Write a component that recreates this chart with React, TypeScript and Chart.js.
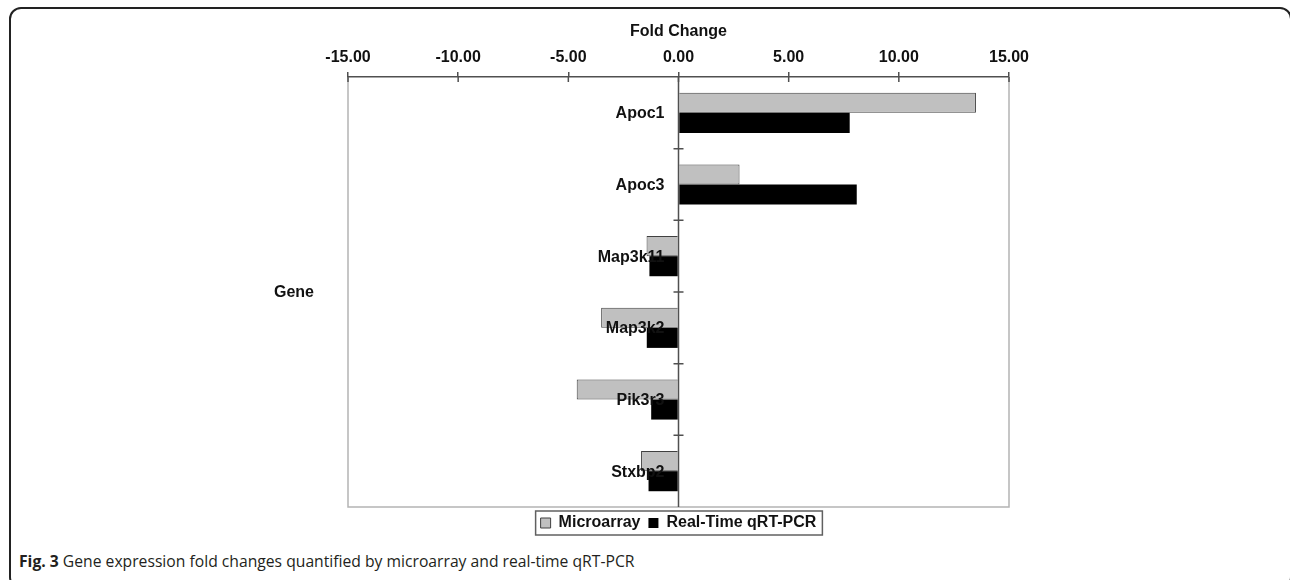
import React, { useEffect, useRef } from "react";
import { Chart, registerables } from "chart.js";

Chart.register(...registerables);

const genes = ["Apoc1", "Apoc3", "Map3k11", "Map3k2", "Pik3r3", "Stxbp2"];
const microarray = [13.5, 2.77, -1.45, -3.51, -4.62, -1.7];
const qrtPcr = [7.77, 8.09, -1.32, -1.44, -1.24, -1.36];
const xTickValues = [-15, -10, -5, 0, 5, 10, 15];
const seriesNames = ["Microarray", "Real-Time qRT-PCR"];
const xTitle = "Fold Change";
const yTitle = "Gene";
const captionBold = "Fig. 3";
const captionText = " Gene expression fold changes quantified by microarray and real-time qRT-PCR";

const FONT = '"Liberation Sans", Arial, sans-serif';

const decorPlugin = {
  id: "decor",
  beforeDatasetsDraw(chart: any) {
    const { ctx, chartArea: a } = chart;
    ctx.save();
    ctx.strokeStyle = "#b4b4b4";
    ctx.lineWidth = 1.5;
    ctx.beginPath();
    ctx.moveTo(a.left, a.top);
    ctx.lineTo(a.left, a.bottom);
    ctx.lineTo(a.right, a.bottom);
    ctx.lineTo(a.right, a.top);
    ctx.stroke();
    ctx.restore();
  },
  afterDatasetsDraw(chart: any) {
    const { ctx, chartArea: a, scales } = chart;
    const x = scales.x;
    const y = scales.y;
    const x0 = x.getPixelForValue(0);
    ctx.save();
    // zero axis
    ctx.strokeStyle = "#505050";
    ctx.lineWidth = 1.5;
    ctx.beginPath();
    ctx.moveTo(x0, a.top);
    ctx.lineTo(x0, a.bottom);
    ctx.stroke();
    // category boundary ticks on the zero axis
    ctx.beginPath();
    for (let i = 1; i < genes.length; i++) {
      const yb = (y.getPixelForValue(i - 1) + y.getPixelForValue(i)) / 2;
      ctx.moveTo(x0 - 5, yb);
      ctx.lineTo(x0 + 5, yb);
    }
    // lower half of the top axis ticks
    for (const v of xTickValues) {
      const px = x.getPixelForValue(v);
      ctx.moveTo(px, a.top);
      ctx.lineTo(px, a.top + 5);
    }
    ctx.stroke();
    // category labels
    ctx.fillStyle = "#111";
    ctx.font = `bold 16px ${FONT}`;
    ctx.textAlign = "right";
    ctx.textBaseline = "middle";
    genes.forEach((g, i) => {
      ctx.fillText(g, x0 - 14, y.getPixelForValue(i) + 1);
    });
    // y title
    ctx.textAlign = "center";
    ctx.fillText(yTitle, a.left - 54, (a.top + a.bottom) / 2 + 1);
    // legend frame
    const lg = chart.legend;
    if (lg && lg.legendHitBoxes && lg.legendHitBoxes.length) {
      const hb = lg.legendHitBoxes;
      let l = Infinity, r = -Infinity, t = Infinity, b = -Infinity;
      for (const h of hb) {
        l = Math.min(l, h.left);
        r = Math.max(r, h.left + h.width);
        t = Math.min(t, h.top);
        b = Math.max(b, h.top + h.height);
      }
      ctx.strokeStyle = "#606060";
      ctx.lineWidth = 1.5;
      ctx.strokeRect(l - 5, t - 4, r - l + 11, b - t + 8);
    }
    ctx.restore();
  },
};

export default function App() {
  const ref = useRef<HTMLCanvasElement>(null);

  useEffect(() => {
    if (!ref.current) return;
    const chart = new Chart(ref.current, {
      type: "bar",
      data: {
        labels: genes,
        datasets: [
          {
            label: seriesNames[0],
            data: microarray,
            backgroundColor: "#c0c0c0",
            borderColor: "#404040",
            borderWidth: 1,
            barPercentage: 1,
            categoryPercentage: 0.56,
          },
          {
            label: seriesNames[1],
            data: qrtPcr,
            backgroundColor: "#000000",
            borderColor: "#000000",
            borderWidth: 0,
            barPercentage: 1,
            categoryPercentage: 0.56,
          },
        ],
      },
      options: {
        indexAxis: "y",
        animation: false,
        responsive: false,
        devicePixelRatio: 1,
        events: [],
        layout: { padding: { left: 348, right: 281, top: 8, bottom: 4 } },
        scales: {
          x: {
            type: "linear",
            position: "top",
            min: -15,
            max: 15,
            afterBuildTicks: (s: any) => {
              s.ticks = xTickValues.map((v) => ({ value: v }));
            },
            afterFit: (s: any) => {
              s.height = 69;
            },
            ticks: {
              callback: (v: any) => Number(v).toFixed(2),
              font: { family: FONT, size: 16, weight: "bold" },
              color: "#111",
              padding: 5,
              maxRotation: 0,
            },
            grid: {
              drawOnChartArea: false,
              drawTicks: true,
              tickLength: 5,
              color: "#505050",
              lineWidth: 1.5,
            },
            border: { display: true, color: "#505050", width: 1.5 },
            title: {
              display: true,
              text: xTitle,
              font: { family: FONT, size: 16, weight: "bold" },
              color: "#111",
              padding: { top: 14, bottom: 0 },
            },
          },
          y: {
            type: "category",
            display: false,
          },
        },
        plugins: {
          legend: {
            position: "bottom",
            labels: {
              font: { family: FONT, size: 16, weight: "bold" },
              color: "#111",
              boxWidth: 10,
              boxHeight: 10,
              padding: 8,
            },
          },
          tooltip: { enabled: false },
        },
      },
      plugins: [decorPlugin],
    } as any);
    return () => chart.destroy();
  }, []);

  return (
    <div
      style={{
        position: "fixed",
        left: 0,
        top: 0,
        width: 1290,
        height: 580,
        overflow: "hidden",
        background: "#fff",
      }}
    >
      <div
        style={{
          position: "absolute",
          left: 9,
          top: 7,
          width: 1283,
          height: 582,
          boxSizing: "border-box",
          border: "2px solid #222",
          borderRadius: 12,
        }}
      />
      <canvas
        ref={ref}
        width={1290}
        height={545}
        style={{ position: "absolute", left: 0, top: 0, width: 1290, height: 545 }}
      />
      <div
        style={{
          position: "absolute",
          left: 19,
          top: 550,
          font: '15.7px "Open Sans", sans-serif',
          color: "#231f20",
          whiteSpace: "nowrap",
        }}
      >
        <b>{captionBold}</b>
        {captionText}
      </div>
    </div>
  );
}
